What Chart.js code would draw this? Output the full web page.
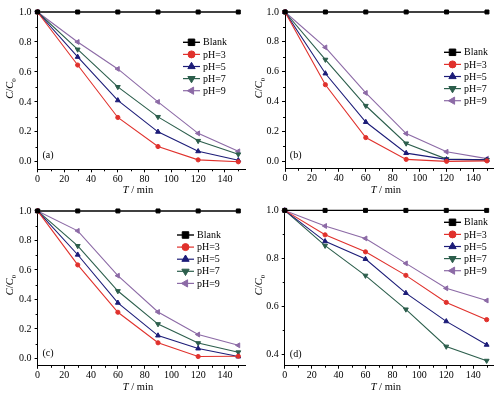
<!DOCTYPE html>
<html><head><meta charset="utf-8">
<script src="https://cdn.jsdelivr.net/npm/chart.js@4/dist/chart.umd.min.js"></script>
<style>
html,body{margin:0;padding:0;background:#fff;}
#wrap{position:relative;width:499px;height:399px;overflow:hidden;background:#fff;}
.p{position:absolute;}
canvas{display:block;}
</style></head><body>
<div id="wrap">
<div class="p" style="left:0;top:0;"><canvas id="ca" width="250" height="200"></canvas></div>
<div class="p" style="left:247px;top:0;"><canvas id="cb" width="252" height="200"></canvas></div>
<div class="p" style="left:0;top:199px;"><canvas id="cc" width="250" height="200"></canvas></div>
<div class="p" style="left:247px;top:199px;"><canvas id="cd" width="252" height="200"></canvas></div>
</div>
<script>
// ---- data ----
const times = [0, 30, 60, 90, 120, 150];
const seriesNames = ['Blank', 'pH=3', 'pH=5', 'pH=7', 'pH=9'];
const blank = [1, 1, 1, 1, 1, 1];

const a_pH3 = [1, 0.646, 0.296, 0.102, 0.013, 0.0];
const a_pH5 = [1, 0.70, 0.41, 0.20, 0.07, 0.01];
const a_pH7 = [1, 0.75, 0.50, 0.30, 0.14, 0.05];
const a_pH9 = [1, 0.80, 0.62, 0.40, 0.19, 0.07];

const b_pH3 = [1, 0.513, 0.159, 0.013, 0.0, 0.003];
const b_pH5 = [1, 0.588, 0.263, 0.055, 0.013, 0.01];
const b_pH7 = [1, 0.681, 0.372, 0.12, 0.015, 0.01];
const b_pH9 = [1, 0.763, 0.458, 0.186, 0.064, 0.018];

const c_pH3 = [1, 0.634, 0.313, 0.106, 0.013, 0.015];
const c_pH5 = [1, 0.703, 0.377, 0.155, 0.067, 0.013];
const c_pH7 = [1, 0.763, 0.457, 0.233, 0.104, 0.042];
const c_pH9 = [1, 0.865, 0.561, 0.315, 0.162, 0.089];

const d_pH3 = [1, 0.898, 0.827, 0.729, 0.616, 0.544];
const d_pH5 = [1, 0.871, 0.797, 0.655, 0.537, 0.439];
const d_pH7 = [1, 0.853, 0.728, 0.587, 0.432, 0.373];
const d_pH9 = [1, 0.935, 0.883, 0.779, 0.675, 0.624];

const xTicks = [0, 20, 40, 60, 80, 100, 120, 140];
const xMinorTicks = [10, 30, 50, 70, 90, 110, 130, 150];
const yTicksABC = [0.0, 0.2, 0.4, 0.6, 0.8, 1.0];
const yMinorABC = [0.1, 0.3, 0.5, 0.7, 0.9];
const yTicksD = [0.4, 0.6, 0.8, 1.0];
const yMinorD = [0.5, 0.7, 0.9];
const panelLabels = ['(a)', '(b)', '(c)', '(d)'];

// ---- styles ----
const colors = ['#000000', '#e0312c', '#1c1c78', '#2c5e4c', '#8c6aa6'];
const pStyles = ['rect', 'circle', 'triangle', 'triangle', 'triangle'];
const pRots = [0, 0, 0, 180, -90];
const pRad = [2.8, 2.1, 2.8, 2.8, 2.8];
const lRad = [4.6, 3.5, 4.2, 4.2, 4.2];
const FONT = "'Liberation Serif', 'Times New Roman', serif";

const decor = {
  id: 'decor',
  afterDraw(chart, args, o) {
    const ctx = chart.ctx;
    const xs = chart.scales.x, ys = chart.scales.y;
    ctx.save();
    // minor ticks
    ctx.strokeStyle = '#000';
    ctx.lineWidth = 1;
    ctx.beginPath();
    o.xMinor.forEach(v => {
      const px = Math.round(xs.getPixelForValue(v)) + 0.5;
      ctx.moveTo(px, xs.top); ctx.lineTo(px, xs.top + 2);
    });
    o.yMinor.forEach(v => {
      const py = Math.round(ys.getPixelForValue(v)) + 0.5;
      ctx.moveTo(ys.right - 2, py); ctx.lineTo(ys.right, py);
    });
    ctx.stroke();

    // legend
    ctx.textBaseline = 'middle';
    ctx.textAlign = 'left';
    chart.data.datasets.forEach((ds, i) => {
      const y = o.ly + i * 12.1;
      ctx.strokeStyle = ds.borderColor;
      ctx.lineWidth = i === 0 ? 1.4 : 1.2;
      ctx.beginPath(); ctx.moveTo(o.lx, y); ctx.lineTo(o.lx + 17, y); ctx.stroke();
      ctx.fillStyle = ds.borderColor;
      ctx.lineWidth = 1;
      Chart.helpers.drawPoint(ctx, {pointStyle: ds.pointStyle, rotation: ds.pointRotation, radius: lRad[i], borderWidth: 1}, o.lx + 8.5, y);
      ctx.fillStyle = '#000';
      ctx.font = '10px ' + FONT;
      ctx.fillText(ds.label, o.lx + 20, y + 0.5);
    });

    // panel label
    ctx.textAlign = 'center';
    ctx.fillText(o.panel, o.px, o.py);

    // x title: T / min
    const segX = [{t: 'T', f: 'italic 10.5px ' + FONT}, {t: ' / min', f: '10.5px ' + FONT}];
    let w = 0;
    segX.forEach(s => { ctx.font = s.f; s.w = ctx.measureText(s.t).width; w += s.w; });
    let x0 = o.tx - w / 2;
    ctx.textAlign = 'left';
    segX.forEach(s => { ctx.font = s.f; ctx.fillText(s.t, x0, o.ty); x0 += s.w; });

    // y title: C/C0
    ctx.translate(o.yx, o.yy);
    ctx.rotate(-Math.PI / 2);
    const segY = [{t: 'C', f: 'italic 10.5px ' + FONT, dy: 0}, {t: '/', f: '10.5px ' + FONT, dy: 0},
                  {t: 'C', f: 'italic 10.5px ' + FONT, dy: 0}, {t: '0', f: '7px ' + FONT, dy: 3}];
    w = 0;
    segY.forEach(s => { ctx.font = s.f; s.w = ctx.measureText(s.t).width; w += s.w; });
    x0 = -w / 2;
    segY.forEach(s => { ctx.font = s.f; ctx.fillText(s.t, x0, s.dy); x0 += s.w; });
    ctx.restore();
  }
};

function makeChart(id, series, cfg) {
  const datasets = seriesNames.map((n, i) => ({
    label: n,
    data: times.map((t, j) => ({x: t, y: series[i][j]})),
    borderColor: colors[i],
    backgroundColor: colors[i],
    pointBackgroundColor: colors[i],
    pointBorderColor: colors[i],
    pointStyle: pStyles[i],
    pointRotation: pRots[i],
    pointRadius: pRad[i],
    pointBorderWidth: 1,
    borderWidth: i === 0 ? 1.4 : 1.1,
    tension: 0,
    fill: false,
    clip: false
  }));
  const tickFont = {family: FONT, size: 10};
  return new Chart(document.getElementById(id), {
    type: 'line',
    data: {datasets},
    options: {
      responsive: false,
      animation: false,
      devicePixelRatio: 1,
      layout: {padding: {top: cfg.padTop, right: cfg.padRight, left: 0, bottom: 0}},
      plugins: {
        legend: {display: false},
        tooltip: {enabled: false},
        decor: cfg.decor
      },
      scales: {
        x: {
          type: 'linear', min: 0, max: 155,
          afterBuildTicks: s => { s.ticks = xTicks.map(v => ({value: v})); },
          afterFit: s => { s.height = cfg.xh; },
          grid: {display: true, drawOnChartArea: false, drawTicks: true, tickLength: 3, color: '#000', lineWidth: 1},
          border: {display: true, color: '#000', width: 1},
          ticks: {color: '#000', font: tickFont, padding: 1, maxRotation: 0, autoSkip: false,
                  callback: v => String(v)}
        },
        y: {
          type: 'linear', min: cfg.yMin, max: cfg.yMax,
          afterBuildTicks: s => { s.ticks = cfg.yTicks.map(v => ({value: v})); },
          afterFit: s => { s.width = cfg.yw; },
          grid: {display: true, drawOnChartArea: false, drawTicks: true, tickLength: 3, color: '#000', lineWidth: 1},
          border: {display: true, color: '#000', width: 1},
          ticks: {color: '#000', font: tickFont, padding: 3, autoSkip: false,
                  callback: v => Number(v).toFixed(1)}
        }
      }
    },
    plugins: [decor]
  });
}

makeChart('ca', [blank, a_pH3, a_pH5, a_pH7, a_pH9], {
  yMin: -0.05, yMax: 1.02, yTicks: yTicksABC, yw: 37.5, xh: 30.7, padTop: 7.6, padRight: 4,
  decor: {xMinor: xMinorTicks, yMinor: yMinorABC, lx: 183, ly: 42.3, panel: panelLabels[0], px: 48, py: 155.7,
          tx: 138, ty: 190, yx: 10.7, yy: 88.5}
});
makeChart('cb', [blank, b_pH3, b_pH5, b_pH7, b_pH9], {
  yMin: -0.05, yMax: 1.02, yTicks: yTicksABC, yw: 38, xh: 31.2, padTop: 7.7, padRight: 5.3,
  decor: {xMinor: xMinorTicks, yMinor: yMinorABC, lx: 197, ly: 52.3, panel: panelLabels[1], px: 48.7, py: 155.7,
          tx: 138.8, ty: 190, yx: 12.7, yy: 88}
});
makeChart('cc', [blank, c_pH3, c_pH5, c_pH7, c_pH9], {
  yMin: -0.05, yMax: 1.02, yTicks: yTicksABC, yw: 37.6, xh: 33.2, padTop: 6.0, padRight: 4.3,
  decor: {xMinor: xMinorTicks, yMinor: yMinorABC, lx: 177, ly: 36, panel: panelLabels[2], px: 48, py: 154,
          tx: 138, ty: 188, yx: 10.7, yy: 86}
});
makeChart('cd', [blank, d_pH3, d_pH5, d_pH7, d_pH9], {
  yMin: 0.352, yMax: 1.01, yTicks: yTicksD, yw: 37.7, xh: 33.3, padTop: 6.9, padRight: 5.6,
  decor: {xMinor: xMinorTicks, yMinor: yMinorD, lx: 197, ly: 23.3, panel: panelLabels[3], px: 48.7, py: 155.7,
          tx: 138.8, ty: 188, yx: 12.7, yy: 86}
});
</script>
</body></html>
